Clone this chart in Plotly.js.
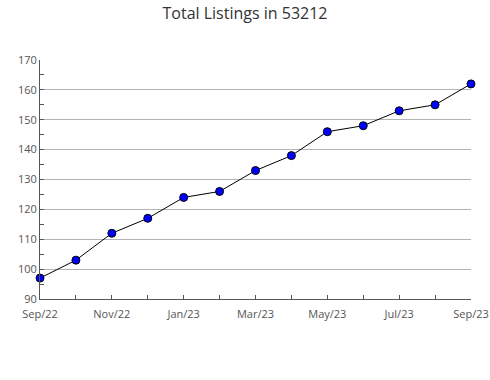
<!DOCTYPE html>
<html>
<head>
<meta charset="utf-8">
<script src="https://cdn.plot.ly/plotly-3.0.1.min.js"></script>
<style>html,body{margin:0;padding:0;background:#fff;}#chart{width:490px;height:380px;}</style>
</head>
<body>
<div id="chart"></div>
<script>
const months = ['Sep/22','Oct/22','Nov/22','Dec/22','Jan/23','Feb/23','Mar/23','Apr/23','May/23','Jun/23','Jul/23','Aug/23','Sep/23'];
const listings = [97, 103, 112, 117, 124, 126, 133, 138, 146, 148, 153, 155, 162];
const tickLabels = ['Sep/22','','Nov/22','','Jan/23','','Mar/23','','May/23','','Jul/23','','Sep/23'];

const xIdx = months.map((m, i) => i);

const trace = {
  x: xIdx,
  y: listings,
  text: months,
  type: 'scatter',
  mode: 'lines+markers',
  cliponaxis: false,
  line: {color: '#000000', width: 1},
  marker: {color: '#0000ff', size: 8, line: {color: '#000000', width: 1}},
  hoverinfo: 'text+y'
};

const layout = {
  width: 490,
  height: 380,
  margin: {l: 40, r: 19, t: 60, b: 81},
  paper_bgcolor: '#ffffff',
  plot_bgcolor: '#ffffff',
  showlegend: false,
  font: {family: '"Open Sans", sans-serif', color: '#555555', size: 11},
  title: {
    text: 'Total Listings in 53212',
    font: {family: '"Open Sans", sans-serif', size: 16, color: '#333333'},
    x: 0.5, xanchor: 'center', y: 0.98, yanchor: 'top'
  },
  xaxis: {
    range: [0, 12],
    tickmode: 'array',
    tickvals: xIdx,
    ticktext: tickLabels,
    ticks: 'inside',
    ticklen: 4,
    tickcolor: '#555555',
    ticklabelstandoff: 5,
    showgrid: false,
    zeroline: false,
    showline: true,
    linecolor: '#555555',
    linewidth: 1,
    tickfont: {size: 11, color: '#555555'}
  },
  yaxis: {
    range: [90, 170],
    dtick: 10,
    tick0: 90,
    ticks: 'inside',
    ticklen: 4,
    tickcolor: '#555555',
    showgrid: true,
    gridcolor: '#b4b4b4',
    gridwidth: 1,
    zeroline: false,
    showline: true,
    linecolor: '#555555',
    linewidth: 1,
    tickfont: {size: 11, color: '#555555'},
    minor: {dtick: 5, ticks: 'inside', ticklen: 4, tickcolor: '#555555', showgrid: false}
  }
};

Plotly.newPlot('chart', [trace], layout, {displayModeBar: false, staticPlot: true});
</script>
</body>
</html>
